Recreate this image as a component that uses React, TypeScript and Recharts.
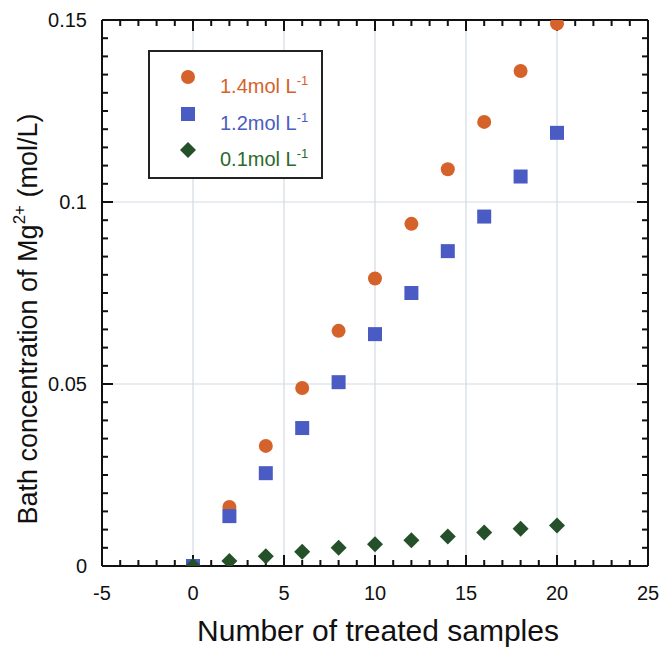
import React from "react";
import { ScatterChart, Scatter, XAxis, YAxis, ReferenceLine } from "recharts";

const xSamples14 = [0, 2, 4, 6, 8, 10, 12, 14, 16, 18, 20];
const conc14 = [0, 0.0162, 0.033, 0.0489, 0.0646, 0.079, 0.094, 0.109, 0.122, 0.136, 0.149];
const xSamples12 = [0, 2, 4, 6, 8, 10, 12, 14, 16, 18, 20];
const conc12 = [0, 0.0137, 0.0255, 0.0379, 0.0505, 0.0637, 0.075, 0.0865, 0.096, 0.107, 0.119];
const xSamples01 = [0, 2, 4, 6, 8, 10, 12, 14, 16, 18, 20];
const conc01 = [0, 0.0014, 0.0027, 0.0039, 0.005, 0.006, 0.0071, 0.0081, 0.0092, 0.0102, 0.0111];

const X_MIN = -5;
const X_MAX = 25;
const Y_MIN = 0;
const Y_MAX = 0.15;
const xMajor = [-5, 0, 5, 10, 15, 20, 25];
const yMajor = [0, 0.05, 0.1, 0.15];
const yMajorLabels = ["0", "0.05", "0.1", "0.15"];
const xMinor = Array.from({ length: 31 }, (_, i) => i - 5);
const yMinor = Array.from({ length: 31 }, (_, i) => +(i * 0.005).toFixed(3));
const xGrid = [0, 5, 10, 15, 20];
const yGrid = [0.05, 0.1];

const d14 = xSamples14.map((x, i) => ({ x, y: conc14[i] }));
const d12 = xSamples12.map((x, i) => ({ x, y: conc12[i] }));
const d01 = xSamples01.map((x, i) => ({ x, y: conc01[i] }));

const isMajorX = (v: number) => xMajor.some((m) => Math.abs(m - v) < 1e-9);
const isMajorY = (v: number) => yMajor.some((m) => Math.abs(m - v) < 1e-9);
const bottomTicks = xMinor.map((v) => ({ x: v, y: Y_MIN, major: isMajorX(v) }));
const topTicks = xMinor.map((v) => ({ x: v, y: Y_MAX, major: isMajorX(v) }));
const leftTicks = yMinor.map((v) => ({ x: X_MIN, y: v, major: isMajorY(v) }));
const rightTicks = yMinor.map((v) => ({ x: X_MAX, y: v, major: isMajorY(v) }));

const ORANGE = "#d4622a";
const BLUE = "#4a5cc4";
const GREEN = "#24502a";
const FONT = "'Liberation Sans', Arial, Helvetica, sans-serif";
const AXIS = "#111";

const tickLen = (p: any) => (p.payload && p.payload.major ? 11 : 6);
const BottomTickMark = (p: any) => (
  <rect x={p.cx - 1} y={p.cy - tickLen(p)} width={2} height={tickLen(p)} fill={AXIS} />
);
const TopTickMark = (p: any) => <rect x={p.cx - 1} y={p.cy} width={2} height={tickLen(p)} fill={AXIS} />;
const LeftTickMark = (p: any) => <rect x={p.cx} y={p.cy - 1} width={tickLen(p)} height={2} fill={AXIS} />;
const RightTickMark = (p: any) => (
  <rect x={p.cx - tickLen(p)} y={p.cy - 1} width={tickLen(p)} height={2} fill={AXIS} />
);

const renderBottomLabel = (p: any) => (
  <text key={"bl" + p.payload.value} x={p.x} y={p.y + 34} textAnchor="middle" fontSize={20} fontFamily={FONT} fill="#111">
    {String(p.payload.value)}
  </text>
);

const renderLeftLabel = (p: any) => {
  const idx = yMajor.findIndex((v) => Math.abs(v - p.payload.value) < 1e-9);
  return (
    <text key={"ll" + idx} x={p.x - 15} y={p.y + 7} textAnchor="end" fontSize={20} fontFamily={FONT} fill="#111">
      {yMajorLabels[idx]}
    </text>
  );
};

const Circle = (p: any) => <circle cx={p.cx} cy={p.cy} r={7} fill={ORANGE} />;
const Square = (p: any) => <rect x={p.cx - 7} y={p.cy - 7} width={14} height={14} fill={BLUE} />;
const Diamond = (p: any) => (
  <path d={`M${p.cx},${p.cy - 8} L${p.cx + 8},${p.cy} L${p.cx},${p.cy + 8} L${p.cx - 8},${p.cy} Z`} fill={GREEN} />
);

const LegendRow = ({ color, label, marker, top }: any) => (
  <div style={{ position: "absolute", left: 0, top, width: 170, height: 30 }}>
    <svg width={20} height={20} style={{ position: "absolute", left: 28, top: 0 }}>
      {marker === "circle" && <circle cx={10} cy={10} r={7} fill={ORANGE} />}
      {marker === "square" && <rect x={3} y={3} width={14} height={14} fill={BLUE} />}
      {marker === "diamond" && <path d="M10,2 L18,10 L10,18 L2,10 Z" fill={GREEN} />}
    </svg>
    <div
      style={{
        position: "absolute",
        left: 70,
        top: 8,
        color,
        fontFamily: FONT,
        fontSize: 20,
        lineHeight: "23px",
        whiteSpace: "nowrap",
      }}
    >
      {label}
      <sup style={{ fontSize: 13, verticalAlign: "top", position: "relative", top: -6 }}>-1</sup>
    </div>
  </div>
);

export default function App() {
  return (
    <div style={{ position: "absolute", left: 0, top: 0, width: 661, height: 649, background: "#fff" }}>
      <ScatterChart width={661} height={649} margin={{ top: 19, right: 12, bottom: 23, left: 42 }}>
        {xGrid.map((v) => (
          <ReferenceLine key={"gx" + v} x={v} xAxisId="b" yAxisId="l" stroke="#d3dae2" strokeWidth={1.2} />
        ))}
        {yGrid.map((v) => (
          <ReferenceLine key={"gy" + v} y={v} xAxisId="b" yAxisId="l" stroke="#d3dae2" strokeWidth={1.2} />
        ))}
        <XAxis
          xAxisId="b"
          type="number"
          dataKey="x"
          orientation="bottom"
          domain={[X_MIN, X_MAX]}
          ticks={xMajor}
          interval={0}
          height={60}
          tickLine={false}
          tickSize={0}
          tickMargin={0}
          axisLine={{ stroke: AXIS, strokeWidth: 2 }}
          tick={renderBottomLabel}
          allowDataOverflow
          label={{
            content: () => (
              <text x={378} y={641} textAnchor="middle" fontSize={30} fontFamily={FONT} fill="#111">
                Number of treated samples
              </text>
            ),
          }}
        />
        <XAxis
          xAxisId="t"
          type="number"
          dataKey="x"
          orientation="top"
          domain={[X_MIN, X_MAX]}
          ticks={xMajor}
          interval={0}
          height={1}
          tickLine={false}
          tick={false}
          axisLine={{ stroke: AXIS, strokeWidth: 2 }}
          allowDataOverflow
        />
        <YAxis
          yAxisId="l"
          type="number"
          dataKey="y"
          orientation="left"
          domain={[Y_MIN, Y_MAX]}
          ticks={yMajor}
          interval={0}
          width={60}
          tickLine={false}
          tickSize={0}
          tickMargin={0}
          axisLine={{ stroke: AXIS, strokeWidth: 2 }}
          tick={renderLeftLabel}
          allowDataOverflow
          label={{
            content: () => (
              <text
                x={37}
                y={319}
                textAnchor="middle"
                fontSize={27}
                fontFamily={FONT}
                fill="#111"
                transform="rotate(-90, 37, 319)"
              >
                Bath concentration of Mg
                <tspan fontSize={17} dy={-12}>2+</tspan>
                <tspan dy={12}> (mol/L)</tspan>
              </text>
            ),
          }}
        />
        <YAxis
          yAxisId="r"
          type="number"
          dataKey="y"
          orientation="right"
          domain={[Y_MIN, Y_MAX]}
          ticks={yMajor}
          interval={0}
          width={1}
          tickLine={false}
          tick={false}
          axisLine={{ stroke: AXIS, strokeWidth: 2 }}
          allowDataOverflow
        />
        <Scatter xAxisId="b" yAxisId="l" data={bottomTicks} shape={<BottomTickMark />} isAnimationActive={false} />
        <Scatter xAxisId="b" yAxisId="l" data={topTicks} shape={<TopTickMark />} isAnimationActive={false} />
        <Scatter xAxisId="b" yAxisId="l" data={leftTicks} shape={<LeftTickMark />} isAnimationActive={false} />
        <Scatter xAxisId="b" yAxisId="l" data={rightTicks} shape={<RightTickMark />} isAnimationActive={false} />
        <Scatter xAxisId="b" yAxisId="l" data={d14} shape={<Circle />} isAnimationActive={false} />
        <Scatter xAxisId="b" yAxisId="l" data={d12} shape={<Square />} isAnimationActive={false} />
        <Scatter xAxisId="b" yAxisId="l" data={d01} shape={<Diamond />} isAnimationActive={false} />
      </ScatterChart>
      <div
        style={{
          position: "absolute",
          left: 148,
          top: 50,
          width: 171,
          height: 125,
          border: "2px solid #222",
          background: "#fff",
        }}
      >
        <LegendRow color={ORANGE} label="1.4mol L" marker="circle" top={15} />
        <LegendRow color={BLUE} label="1.2mol L" marker="square" top={52} />
        <LegendRow color={"#2b6a2b"} label="0.1mol L" marker="diamond" top={88} />
      </div>
    </div>
  );
}
